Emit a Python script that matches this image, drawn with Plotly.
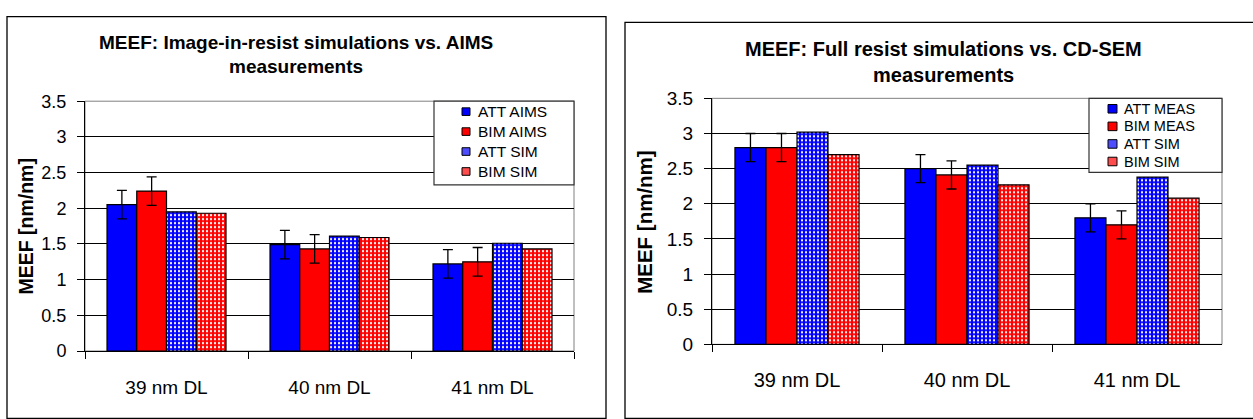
import plotly.graph_objects as go

# ---------------- data ----------------
categories = ["39 nm DL", "40 nm DL", "41 nm DL"]

left_names = ["ATT AIMS", "BIM AIMS", "ATT SIM", "BIM SIM"]
att_aims = [2.05, 1.49, 1.22]
bim_aims = [2.24, 1.43, 1.25]
att_sim_left = [1.95, 1.61, 1.51]
bim_sim_left = [1.93, 1.59, 1.43]
att_aims_err = [0.2, 0.2, 0.2]
bim_aims_err = [0.2, 0.2, 0.2]

right_names = ["ATT MEAS", "BIM MEAS", "ATT SIM", "BIM SIM"]
att_meas = [2.80, 2.50, 1.80]
bim_meas = [2.80, 2.41, 1.70]
att_sim_right = [3.02, 2.55, 2.38]
bim_sim_right = [2.70, 2.27, 2.08]
att_meas_err = [0.2, 0.2, 0.2]
bim_meas_err = [0.2, 0.2, 0.2]

y_ticks = [0, 0.5, 1, 1.5, 2, 2.5, 3, 3.5]
y_tick_labels = ["0", "0.5", "1", "1.5", "2", "2.5", "3", "3.5"]

left_title = ["MEEF: Image-in-resist simulations vs. AIMS", "measurements"]
right_title = ["MEEF: Full resist simulations vs. CD-SEM", "measurements"]
y_title = "MEEF [nm/nm]"

# ---------------- styling ----------------
W, H = 1253, 419
FONT = "Liberation Sans, Arial, sans-serif"
BLUE = "#0000FF"
RED = "#FF0000"


def px(x):
    return x / W


def py(y):
    return 1 - y / H


fig = go.Figure()


def add_series(xa, ya, name, vals, color, patterned, err=None):
    kw = dict(
        x=categories, y=vals, name=name, xaxis=xa, yaxis=ya,
        showlegend=False,
        marker=dict(color=color, line=dict(color="black", width=1.2)),
    )
    if patterned:
        kw["marker"]["pattern"] = dict(shape=".", bgcolor=color, fgcolor="white",
                                       size=4, solidity=0.25, fillmode="replace")
    if err is not None:
        kw["error_y"] = dict(type="data", array=err, color="black",
                             thickness=1.3, width=5)
    fig.add_trace(go.Bar(**kw))


# left chart
add_series("x", "y", left_names[0], att_aims, BLUE, False, att_aims_err)
add_series("x", "y", left_names[1], bim_aims, RED, False, bim_aims_err)
add_series("x", "y", left_names[2], att_sim_left, BLUE, True)
add_series("x", "y", left_names[3], bim_sim_left, RED, True)
# right chart
add_series("x2", "y2", right_names[0], att_meas, BLUE, False, att_meas_err)
add_series("x2", "y2", right_names[1], bim_meas, RED, False, bim_meas_err)
add_series("x2", "y2", right_names[2], att_sim_right, BLUE, True)
add_series("x2", "y2", right_names[3], bim_sim_right, RED, True)


def xaxis_cfg(domain, size, standoff):
    return dict(domain=domain, type="category", showline=True, linecolor="black",
                linewidth=1, ticks="outside", tickson="boundaries", ticklen=7,
                tickcolor="black", showgrid=False, ticklabelstandoff=standoff,
                tickfont=dict(family=FONT, size=size, color="black"))


def yaxis_cfg(domain, size, anchor):
    return dict(domain=domain, range=[0, 3.5], tickvals=y_ticks, ticktext=y_tick_labels,
                showline=True, linecolor="black", linewidth=1, ticks="outside",
                ticklen=7, tickcolor="black", showgrid=True, gridcolor="black",
                gridwidth=1, zeroline=False, anchor=anchor, ticklabelstandoff=7,
                tickfont=dict(family=FONT, size=size, color="black"))


fig.update_layout(
    width=W, height=H, autosize=False,
    margin=dict(l=0, r=0, t=0, b=0),
    paper_bgcolor="white", plot_bgcolor="white",
    barmode="group", bargap=0.27, bargroupgap=0,
    showlegend=False,
    xaxis=xaxis_cfg([px(85), px(574)], 19, 19),
    yaxis=yaxis_cfg([py(359), py(96)], 18, "x"),
    xaxis2=dict(xaxis_cfg([px(712), px(1222)], 20, 18), anchor="y2"),
    yaxis2=yaxis_cfg([py(352), py(93)], 19, "x2"),
)

shapes = []
annotations = []

# outer chart frames
shapes.append(dict(type="rect", xref="paper", yref="paper", x0=px(7), x1=px(606),
                   y0=py(430), y1=py(7), line=dict(color="black", width=1.3),
                   fillcolor="rgba(0,0,0,0)", layer="below"))
shapes.append(dict(type="rect", xref="paper", yref="paper", x0=px(625), x1=px(1265),
                   y0=py(430), y1=py(13), line=dict(color="black", width=1.3),
                   fillcolor="rgba(0,0,0,0)", layer="below"))
# plot-area frames (grey right border)
for xr, yr in (("x domain", "y domain"), ("x2 domain", "y2 domain")):
    shapes.append(dict(type="rect", xref=xr, yref=yr, x0=0, x1=1, y0=0, y1=1,
                       line=dict(color="#808080", width=1), layer="below"))

# titles
def title(lines, cx, ys, size):
    for t, yy in zip(lines, ys):
        annotations.append(dict(text="<b>%s</b>" % t, x=px(cx), y=py(yy), xref="paper",
                                yref="paper", showarrow=False, xanchor="center",
                                yanchor="middle",
                                font=dict(family=FONT, size=size, color="black")))

title(left_title, 296, (34, 60), 19)
title(right_title, 943, (41, 68), 20)

# y-axis titles
for cx, cy, size in ((26, 228, 19.5), (645, 223, 20.5)):
    annotations.append(dict(text="<b>%s</b>" % y_title, x=px(cx), y=py(cy), xref="paper",
                            yref="paper", showarrow=False, textangle=-90,
                            xanchor="center", yanchor="middle",
                            font=dict(family=FONT, size=size, color="black")))

# legends (box, swatches, labels)
def legend(names, box, sw_x, sw_size, rows, text_x, size):
    x0, x1, y0, y1 = box
    shapes.append(dict(type="rect", xref="paper", yref="paper", x0=px(x0), x1=px(x1),
                       y0=py(y1), y1=py(y0), line=dict(color="#333333", width=1.2),
                       fillcolor="white", layer="above"))
    fills = [BLUE, RED, "#4d4dff", "#ff4d4d"]
    for name, fill, ry in zip(names, fills, rows):
        shapes.append(dict(type="rect", xref="paper", yref="paper",
                           x0=px(sw_x), x1=px(sw_x + sw_size),
                           y0=py(ry + sw_size / 2), y1=py(ry - sw_size / 2),
                           line=dict(color="black", width=1), fillcolor=fill,
                           layer="above"))
        annotations.append(dict(text=name, x=px(text_x), y=py(ry), xref="paper",
                                yref="paper", showarrow=False, xanchor="left",
                                yanchor="middle",
                                font=dict(family=FONT, size=size, color="black")))

legend(left_names, (434, 574, 96, 184), 462, 8, (107, 128, 149, 170), 476, 15.5)
legend(right_names, (1089, 1222, 93, 171), 1108, 9, (104, 122.5, 141, 159.5), 1122, 14.5)

fig.update_layout(shapes=shapes, annotations=annotations)

fig.write_html("out.html")
